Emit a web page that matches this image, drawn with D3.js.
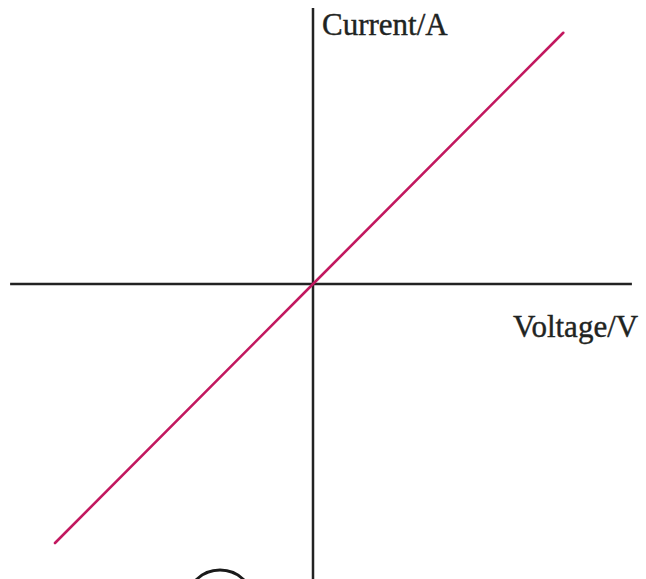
<!DOCTYPE html>
<html>
<head>
<meta charset="utf-8">
<script src="https://cdn.jsdelivr.net/npm/d3@7"></script>
<style>
  html, body { margin: 0; padding: 0; background: #fff; }
  svg { display: block; }
</style>
</head>
<body>
<script>
// Data (arbitrary units, proportional I-V relation through origin)
const voltage = [-1, 0, 0.97];
const current = [-1, 0, 0.97];
const xAxisExtent = [-1.174, 1.236];
const yAxisExtent = [-1.14, 1.066];
const xLabel = "Voltage/V";
const yLabel = "Current/A";

const W = 646, H = 579;
const svg = d3.select("body").append("svg").attr("width", W).attr("height", H);

const x = d3.scaleLinear().domain([-1, 1]).range([55, 571]);
const y = d3.scaleLinear().domain([-1, 1]).range([543, 25]);

const axisColor = "#222";

// horizontal axis
svg.append("line")
  .attr("x1", x(xAxisExtent[0])).attr("x2", x(xAxisExtent[1]))
  .attr("y1", y(0)).attr("y2", y(0))
  .attr("stroke", axisColor).attr("stroke-width", 2.5);

// vertical axis
svg.append("line")
  .attr("x1", x(0)).attr("x2", x(0))
  .attr("y1", y(yAxisExtent[0])).attr("y2", y(yAxisExtent[1]))
  .attr("stroke", axisColor).attr("stroke-width", 2.5);

// data line
const pts = voltage.map((v, i) => [v, current[i]]);
svg.append("path")
  .datum(pts)
  .attr("d", d3.line().x(d => x(d[0])).y(d => y(d[1])))
  .attr("fill", "none")
  .attr("stroke", "#c2185f")
  .attr("stroke-width", 2.6)
  .attr("stroke-linecap", "round");

// labels
const labelFont = "'Liberation Serif', 'Times New Roman', serif";
svg.append("text")
  .attr("x", x(0) + 9).attr("y", 35)
  .attr("font-family", labelFont)
  .attr("font-size", 31)
  .attr("fill", "#1f2422")
  .attr("stroke", "#1f2422").attr("stroke-width", 0.4)
  .text(yLabel);

svg.append("text")
  .attr("x", 513).attr("y", 337)
  .attr("font-family", labelFont)
  .attr("font-size", 31)
  .attr("fill", "#1f2422")
  .attr("stroke", "#1f2422").attr("stroke-width", 0.4)
  .text(xLabel);

// partial circle at the bottom edge
svg.append("circle")
  .attr("cx", 220).attr("cy", 604).attr("r", 34)
  .attr("fill", "none").attr("stroke", "#1a1a1a").attr("stroke-width", 3);
</script>
</body>
</html>
